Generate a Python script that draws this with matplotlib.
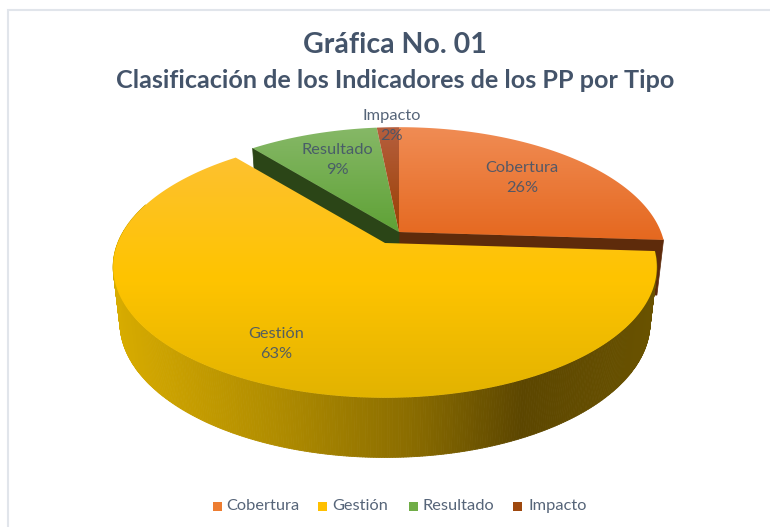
import numpy as np
import matplotlib
matplotlib.use("Agg")
import matplotlib.pyplot as plt
from matplotlib.collections import PolyCollection
from matplotlib.colors import LinearSegmentedColormap
from matplotlib.patches import Polygon, Rectangle

title_top = "Gráfica No. 01"
title_sub = "Clasificación de los Indicadores de los PP por Tipo"
categories = ["Cobertura", "Gestión", "Resultado", "Impacto"]
values = [26.0, 63.0, 9.4, 1.6]
percent_labels = ["26%", "63%", "9%", "2%"]

TEXT = "#44546A"
legend_colors = ["#ED7D31", "#FFC000", "#70AD47", "#9E480E"]

# pie projection (pixels)
RAD_X, RAD_Y, PERSP = 262, 124, 0.183
DEPTH, BOT_X, BOT_Y = 55, 0.975, 1.03
centers = [(399, 232), (385, 243), (399, 232), (399, 232)]
scales = [1.0, 1.02, 1.0, 1.0]


def project(angle, r, center, scale, bottom=False):
    u = r * np.sin(angle)
    v = -r * np.cos(angle)
    w = 1 - PERSP * v
    dx = scale * RAD_X * u / w
    dy = scale * RAD_Y * v / w
    if bottom:
        return center[0] + BOT_X * dx, center[1] + DEPTH + BOT_Y * dy
    return center[0] + dx, center[1] + dy


def wedge_points(start, end, center, scale):
    t = np.linspace(start, end, 200)
    x, y = project(t, 1.0, center, scale)
    return np.vstack([[center], np.column_stack([x, y])])


def gradient_fill(ax, points, stops, zorder=3):
    cmap = LinearSegmentedColormap.from_list("g", stops)
    x0, x1 = points[:, 0].min(), points[:, 0].max()
    y0, y1 = points[:, 1].min(), points[:, 1].max()
    grad = np.linspace(0, 1, 256).reshape(-1, 1)
    img = ax.imshow(grad, extent=(x0, x1, y1, y0), cmap=cmap, vmin=0, vmax=1,
                    aspect="auto", interpolation="bilinear", zorder=zorder)
    patch = Polygon(points, closed=True, transform=ax.transData, fc="none", ec="none")
    ax.add_patch(patch)
    img.set_clip_path(patch)


def radial_wall(ax, angle, center, scale, color):
    xt, yt = project(angle, 1.0, center, scale)
    xb, yb = project(angle, 1.0, center, scale, bottom=True)
    cx, cy = project(angle, 0.0, center, scale, bottom=True)
    pts = [center, (xt, yt), (xb, yb), (cx, cy)]
    ax.add_patch(Polygon(pts, closed=True, fc=color, ec=color, lw=0.5, zorder=2))


def outer_wall(ax, start, end, center, scale):
    cmap = LinearSegmentedColormap.from_list(
        "wall", [(0, "#D8AC00"), (0.3, "#B08C00"), (0.55, "#8A6C00"),
                 (0.75, "#5C4600"), (1, "#6A5300")])
    t = np.linspace(start, end, 400)
    xt, yt = project(t, 1.0, center, scale)
    xb, yb = project(t, 1.0, center, scale, bottom=True)
    quads, colors = [], []
    for i in range(len(t) - 1):
        quads.append([(xt[i], yt[i]), (xt[i + 1], yt[i + 1]),
                      (xb[i + 1], yb[i + 1]), (xb[i], yb[i])])
        colors.append(cmap((0.5 * (xt[i] + xb[i]) - 114) / 545))
    ax.add_collection(PolyCollection(quads, facecolors=colors, edgecolors=colors,
                                     linewidths=0.6, zorder=4))


fig = plt.figure(figsize=(7.7, 5.27), dpi=100)
ax = fig.add_axes([0, 0, 1, 1])
ax.set_xlim(0, 770)
ax.set_ylim(527, 0)
ax.axis("off")

ax.add_patch(Rectangle((8, 10), 800, 600, fc="white", ec="#E1E5EB", lw=1.5, zorder=0))

total = sum(values)
edges = 2 * np.pi * np.cumsum([0] + values) / total

top_stops = [
    ["#F08C54", "#E5681F"],
    ["#FDC130", "#FFC400", "#E2B300"],
    ["#86B867", "#5FA236"],
    ["#B65F3E", "#9A4003"],
]

# back slices first, the exploded Gestion slice goes over them
radial_wall(ax, edges[1], centers[0], scales[0], "#5E2B0B")
radial_wall(ax, edges[2], centers[2], scales[2], "#2B4517")
for i in [0, 2, 3]:
    gradient_fill(ax, wedge_points(edges[i], edges[i + 1], centers[i], scales[i]), top_stops[i])

outer_wall(ax, edges[1], edges[1] + np.radians(195), centers[1], scales[1])
gradient_fill(ax, wedge_points(edges[1], edges[2], centers[1], scales[1]), top_stops[1], zorder=5)

label_pos = [(522, 178), (276, 344), (337, 160), (392, 126)]
for name, pct, (x, y) in zip(categories, percent_labels, label_pos):
    ax.text(x, y, f"{name}\n{pct}", ha="center", va="center", fontsize=11.8,
            family="Lato", color=TEXT, alpha=0.9, linespacing=1.55, zorder=6)

ax.text(395, 45, title_top, ha="center", va="center", fontsize=20.5, fontweight="bold",
        family="Lato", color=TEXT, zorder=6)
ax.text(395, 81, title_sub, ha="center", va="center", fontsize=18.1, fontweight="bold",
        family="Lato", color=TEXT, zorder=6)

legend_sq = [213, 318, 409, 513]
legend_tx = [226, 332, 423, 528]
for name, color, sx, tx in zip(categories, legend_colors, legend_sq, legend_tx):
    ax.add_patch(Rectangle((sx, 502), 9, 9, fc=color, ec="none", zorder=6))
    ax.text(tx, 506, name, ha="left", va="center", fontsize=11.8, family="Lato",
            color=TEXT, alpha=0.9, zorder=6)

ax.set_xlim(0, 770)
ax.set_ylim(527, 0)
fig.savefig("out.png", dpi=100)
